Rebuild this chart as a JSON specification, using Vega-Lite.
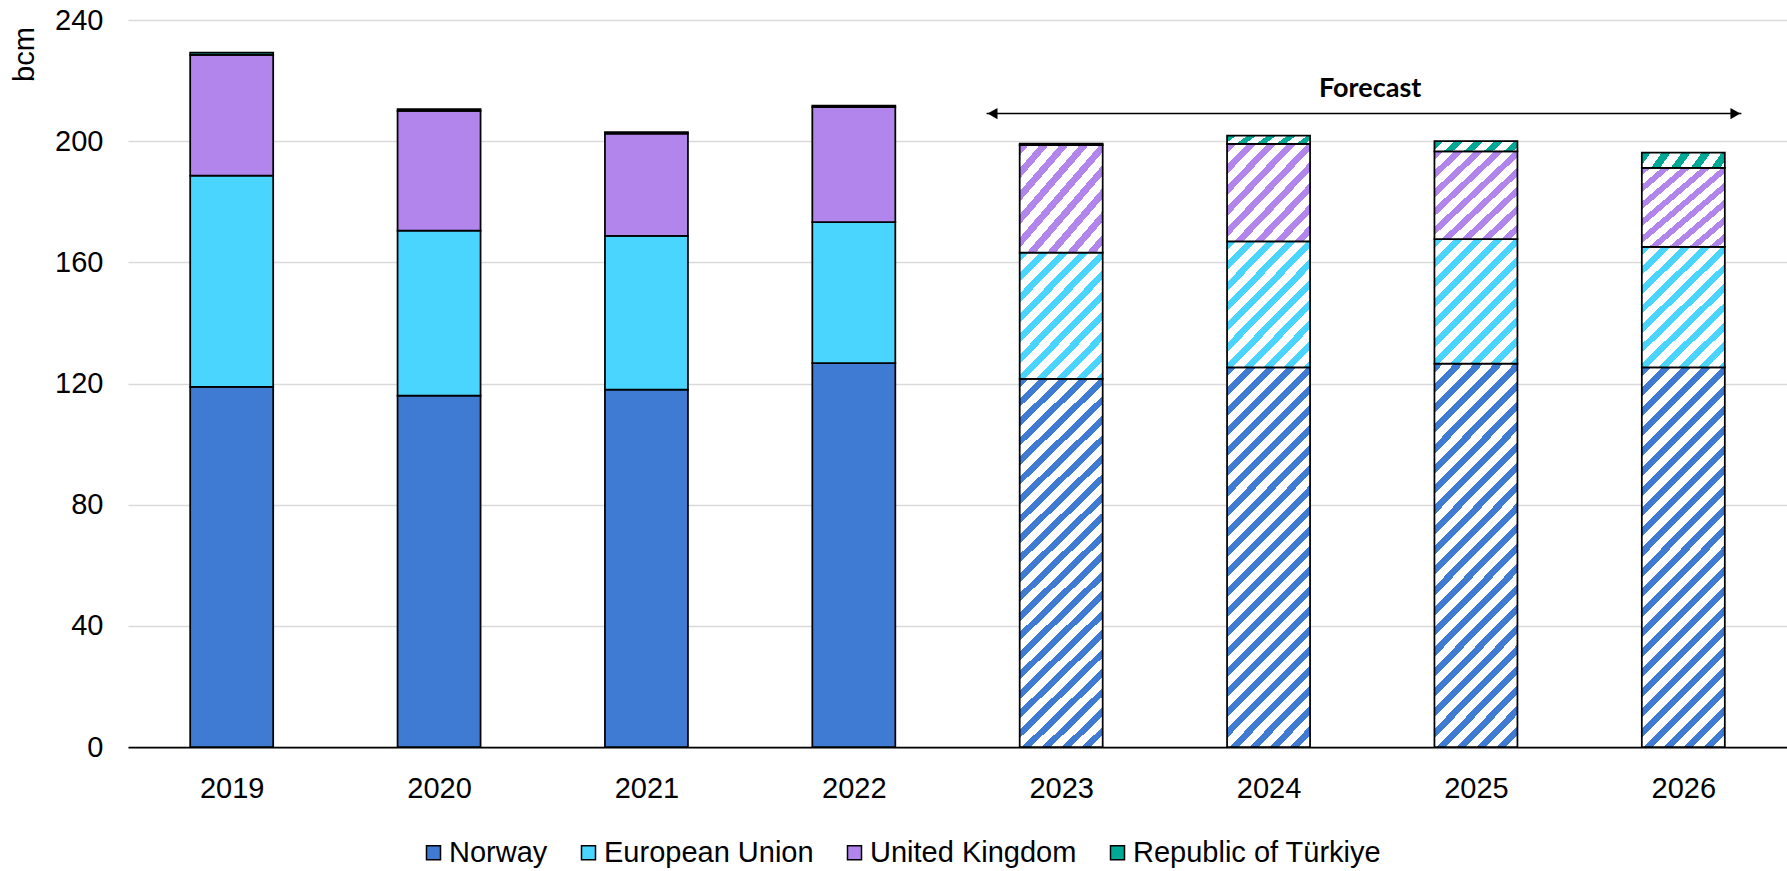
{
"$schema": "https://vega.github.io/schema/vega-lite/v6.json",
"width": 1659,
"height": 727,
"autosize": {"type": "none"},
"padding": {"left": 128, "top": 20, "right": 0, "bottom": 124},
"background": "white",
"config": {"view": {"stroke": null}, "font": "Liberation Sans"},
"data": {"values": [
{"year": 2019, "period": "Historical", "series": "Norway", "value": 118.9},
{"year": 2019, "period": "Historical", "series": "European Union", "value": 69.7},
{"year": 2019, "period": "Historical", "series": "United Kingdom", "value": 39.9},
{"year": 2019, "period": "Historical", "series": "Republic of Türkiye", "value": 0.7},
{"year": 2020, "period": "Historical", "series": "Norway", "value": 116.0},
{"year": 2020, "period": "Historical", "series": "European Union", "value": 54.5},
{"year": 2020, "period": "Historical", "series": "United Kingdom", "value": 39.5},
{"year": 2020, "period": "Historical", "series": "Republic of Türkiye", "value": 0.6},
{"year": 2021, "period": "Historical", "series": "Norway", "value": 118.0},
{"year": 2021, "period": "Historical", "series": "European Union", "value": 50.7},
{"year": 2021, "period": "Historical", "series": "United Kingdom", "value": 33.8},
{"year": 2021, "period": "Historical", "series": "Republic of Türkiye", "value": 0.5},
{"year": 2022, "period": "Historical", "series": "Norway", "value": 126.7},
{"year": 2022, "period": "Historical", "series": "European Union", "value": 46.6},
{"year": 2022, "period": "Historical", "series": "United Kingdom", "value": 37.9},
{"year": 2022, "period": "Historical", "series": "Republic of Türkiye", "value": 0.5},
{"year": 2023, "period": "Forecast", "series": "Norway", "value": 121.5},
{"year": 2023, "period": "Forecast", "series": "European Union", "value": 41.7},
{"year": 2023, "period": "Forecast", "series": "United Kingdom", "value": 35.5},
{"year": 2023, "period": "Forecast", "series": "Republic of Türkiye", "value": 0.5},
{"year": 2024, "period": "Forecast", "series": "Norway", "value": 125.3},
{"year": 2024, "period": "Forecast", "series": "European Union", "value": 41.6},
{"year": 2024, "period": "Forecast", "series": "United Kingdom", "value": 32.2},
{"year": 2024, "period": "Forecast", "series": "Republic of Türkiye", "value": 2.7},
{"year": 2025, "period": "Forecast", "series": "Norway", "value": 126.6},
{"year": 2025, "period": "Forecast", "series": "European Union", "value": 41.1},
{"year": 2025, "period": "Forecast", "series": "United Kingdom", "value": 28.9},
{"year": 2025, "period": "Forecast", "series": "Republic of Türkiye", "value": 3.4},
{"year": 2026, "period": "Forecast", "series": "Norway", "value": 125.3},
{"year": 2026, "period": "Forecast", "series": "European Union", "value": 39.8},
{"year": 2026, "period": "Forecast", "series": "United Kingdom", "value": 26.1},
{"year": 2026, "period": "Forecast", "series": "Republic of Türkiye", "value": 5.0}
]},
"layer": [
{
"transform": [{"stack": "value", "groupby": ["year"], "as": ["v0", "v1"]}, {"filter": {"field": "period", "equal": "Historical"}}],
"mark": {"type": "bar", "stroke": "black", "strokeWidth": 1.75, "width": 83},
"encoding": {
"x": {"field": "year", "type": "quantitative", "title": null, "scale": {"domain": [2018.5, 2026.5], "nice": false, "zero": false, "padding": 0},
"axis": {"values": [2019, 2020, 2021, 2022, 2023, 2024, 2025, 2026], "format": "d", "labelFlush": false, "labelOverlap": false, "labelAngle": 0, "labelFontSize": 29, "labelColor": "black", "labelPadding": 27, "ticks": false, "domain": true, "domainColor": "black", "domainWidth": 1.75, "grid": false}},
"y": {"field": "v1", "type": "quantitative", "title": "bcm", "scale": {"domain": [0, 240], "nice": false},
"axis": {"values": [0, 40, 80, 120, 160, 200, 240], "grid": true, "gridColor": "#d9d9d9", "gridWidth": 1.5, "domain": false, "ticks": false, "labelFontSize": 29, "labelColor": "black", "labelPadding": 25, "titleFontSize": 29, "titleFontWeight": "normal", "titleColor": "black", "titleAngle": 270, "titleX": -95, "titleY": 34, "titleAlign": "center", "titleBaseline": "alphabetic"}},
"y2": {"field": "v0"},
"color": {"field": "series", "type": "nominal",
"scale": {"domain": ["Norway", "European Union", "United Kingdom", "Republic of Türkiye"], "range": ["#3F7AD3", "#49D5FF", "#B185EC", "#00A896"]},
"legend": {"title": null, "orient": "none", "legendX": 291, "legendY": 818, "direction": "horizontal", "symbolType": "square", "symbolSize": 196, "symbolStrokeColor": "black", "symbolStrokeWidth": 1.5, "symbolOpacity": 1, "labelFontSize": 29, "labelColor": "black", "labelOffset": 1, "labelLimit": 600, "columnPadding": 26, "padding": 0}}
}
},
{
"transform": [{"stack": "value", "groupby": ["year"], "as": ["v0", "v1"]}, {"filter": {"and": [{"field": "period", "equal": "Forecast"}, {"field": "series", "equal": "Norway"}]}}],
"mark": {"type": "bar", "stroke": "black", "strokeWidth": 1.75, "width": 83, "fill": {"gradient": "linear", "x1": 0, "y1": 0, "x2": 0.266, "y2": 1.21143, "stops": [
{"offset":0,"color":"#3F7AD3"},{"offset":0.01875,"color":"#3F7AD3"},{"offset":0.01875,"color":"#ffffff"},{"offset":0.041667,"color":"#ffffff"},
{"offset":0.041667,"color":"#3F7AD3"},{"offset":0.060417,"color":"#3F7AD3"},{"offset":0.060417,"color":"#ffffff"},{"offset":0.083333,"color":"#ffffff"},
{"offset":0.083333,"color":"#3F7AD3"},{"offset":0.102083,"color":"#3F7AD3"},{"offset":0.102083,"color":"#ffffff"},{"offset":0.125,"color":"#ffffff"},
{"offset":0.125,"color":"#3F7AD3"},{"offset":0.14375,"color":"#3F7AD3"},{"offset":0.14375,"color":"#ffffff"},{"offset":0.166667,"color":"#ffffff"},
{"offset":0.166667,"color":"#3F7AD3"},{"offset":0.185417,"color":"#3F7AD3"},{"offset":0.185417,"color":"#ffffff"},{"offset":0.208333,"color":"#ffffff"},
{"offset":0.208333,"color":"#3F7AD3"},{"offset":0.227083,"color":"#3F7AD3"},{"offset":0.227083,"color":"#ffffff"},{"offset":0.25,"color":"#ffffff"},
{"offset":0.25,"color":"#3F7AD3"},{"offset":0.26875,"color":"#3F7AD3"},{"offset":0.26875,"color":"#ffffff"},{"offset":0.291667,"color":"#ffffff"},
{"offset":0.291667,"color":"#3F7AD3"},{"offset":0.310417,"color":"#3F7AD3"},{"offset":0.310417,"color":"#ffffff"},{"offset":0.333333,"color":"#ffffff"},
{"offset":0.333333,"color":"#3F7AD3"},{"offset":0.352083,"color":"#3F7AD3"},{"offset":0.352083,"color":"#ffffff"},{"offset":0.375,"color":"#ffffff"},
{"offset":0.375,"color":"#3F7AD3"},{"offset":0.39375,"color":"#3F7AD3"},{"offset":0.39375,"color":"#ffffff"},{"offset":0.416667,"color":"#ffffff"},
{"offset":0.416667,"color":"#3F7AD3"},{"offset":0.435417,"color":"#3F7AD3"},{"offset":0.435417,"color":"#ffffff"},{"offset":0.458333,"color":"#ffffff"},
{"offset":0.458333,"color":"#3F7AD3"},{"offset":0.477083,"color":"#3F7AD3"},{"offset":0.477083,"color":"#ffffff"},{"offset":0.5,"color":"#ffffff"},
{"offset":0.5,"color":"#3F7AD3"},{"offset":0.51875,"color":"#3F7AD3"},{"offset":0.51875,"color":"#ffffff"},{"offset":0.541667,"color":"#ffffff"},
{"offset":0.541667,"color":"#3F7AD3"},{"offset":0.560417,"color":"#3F7AD3"},{"offset":0.560417,"color":"#ffffff"},{"offset":0.583333,"color":"#ffffff"},
{"offset":0.583333,"color":"#3F7AD3"},{"offset":0.602083,"color":"#3F7AD3"},{"offset":0.602083,"color":"#ffffff"},{"offset":0.625,"color":"#ffffff"},
{"offset":0.625,"color":"#3F7AD3"},{"offset":0.64375,"color":"#3F7AD3"},{"offset":0.64375,"color":"#ffffff"},{"offset":0.666667,"color":"#ffffff"},
{"offset":0.666667,"color":"#3F7AD3"},{"offset":0.685417,"color":"#3F7AD3"},{"offset":0.685417,"color":"#ffffff"},{"offset":0.708333,"color":"#ffffff"},
{"offset":0.708333,"color":"#3F7AD3"},{"offset":0.727083,"color":"#3F7AD3"},{"offset":0.727083,"color":"#ffffff"},{"offset":0.75,"color":"#ffffff"},
{"offset":0.75,"color":"#3F7AD3"},{"offset":0.76875,"color":"#3F7AD3"},{"offset":0.76875,"color":"#ffffff"},{"offset":0.791667,"color":"#ffffff"},
{"offset":0.791667,"color":"#3F7AD3"},{"offset":0.810417,"color":"#3F7AD3"},{"offset":0.810417,"color":"#ffffff"},{"offset":0.833333,"color":"#ffffff"},
{"offset":0.833333,"color":"#3F7AD3"},{"offset":0.852083,"color":"#3F7AD3"},{"offset":0.852083,"color":"#ffffff"},{"offset":0.875,"color":"#ffffff"},
{"offset":0.875,"color":"#3F7AD3"},{"offset":0.89375,"color":"#3F7AD3"},{"offset":0.89375,"color":"#ffffff"},{"offset":0.916667,"color":"#ffffff"},
{"offset":0.916667,"color":"#3F7AD3"},{"offset":0.935417,"color":"#3F7AD3"},{"offset":0.935417,"color":"#ffffff"},{"offset":0.958333,"color":"#ffffff"},
{"offset":0.958333,"color":"#3F7AD3"},{"offset":0.977083,"color":"#3F7AD3"},{"offset":0.977083,"color":"#ffffff"},{"offset":1,"color":"#ffffff"}
]}},
"encoding": {"x": {"field": "year", "type": "quantitative", "title": null}, "y": {"field": "v1", "type": "quantitative", "title": "bcm"}, "y2": {"field": "v0"}}
},
{
"transform": [{"stack": "value", "groupby": ["year"], "as": ["v0", "v1"]}, {"filter": {"and": [{"field": "period", "equal": "Forecast"}, {"field": "series", "equal": "European Union"}]}}],
"mark": {"type": "bar", "stroke": "black", "strokeWidth": 1.75, "width": 83, "fill": {"gradient": "linear", "x1": 0, "y1": 0, "x2": 1.78939, "y2": 2.67325, "stops": [
{"offset":0,"color":"#49D5FF"},{"offset":0.01875,"color":"#49D5FF"},{"offset":0.01875,"color":"#ffffff"},{"offset":0.041667,"color":"#ffffff"},
{"offset":0.041667,"color":"#49D5FF"},{"offset":0.060417,"color":"#49D5FF"},{"offset":0.060417,"color":"#ffffff"},{"offset":0.083333,"color":"#ffffff"},
{"offset":0.083333,"color":"#49D5FF"},{"offset":0.102083,"color":"#49D5FF"},{"offset":0.102083,"color":"#ffffff"},{"offset":0.125,"color":"#ffffff"},
{"offset":0.125,"color":"#49D5FF"},{"offset":0.14375,"color":"#49D5FF"},{"offset":0.14375,"color":"#ffffff"},{"offset":0.166667,"color":"#ffffff"},
{"offset":0.166667,"color":"#49D5FF"},{"offset":0.185417,"color":"#49D5FF"},{"offset":0.185417,"color":"#ffffff"},{"offset":0.208333,"color":"#ffffff"},
{"offset":0.208333,"color":"#49D5FF"},{"offset":0.227083,"color":"#49D5FF"},{"offset":0.227083,"color":"#ffffff"},{"offset":0.25,"color":"#ffffff"},
{"offset":0.25,"color":"#49D5FF"},{"offset":0.26875,"color":"#49D5FF"},{"offset":0.26875,"color":"#ffffff"},{"offset":0.291667,"color":"#ffffff"},
{"offset":0.291667,"color":"#49D5FF"},{"offset":0.310417,"color":"#49D5FF"},{"offset":0.310417,"color":"#ffffff"},{"offset":0.333333,"color":"#ffffff"},
{"offset":0.333333,"color":"#49D5FF"},{"offset":0.352083,"color":"#49D5FF"},{"offset":0.352083,"color":"#ffffff"},{"offset":0.375,"color":"#ffffff"},
{"offset":0.375,"color":"#49D5FF"},{"offset":0.39375,"color":"#49D5FF"},{"offset":0.39375,"color":"#ffffff"},{"offset":0.416667,"color":"#ffffff"},
{"offset":0.416667,"color":"#49D5FF"},{"offset":0.435417,"color":"#49D5FF"},{"offset":0.435417,"color":"#ffffff"},{"offset":0.458333,"color":"#ffffff"},
{"offset":0.458333,"color":"#49D5FF"},{"offset":0.477083,"color":"#49D5FF"},{"offset":0.477083,"color":"#ffffff"},{"offset":0.5,"color":"#ffffff"}
]}},
"encoding": {"x": {"field": "year", "type": "quantitative", "title": null}, "y": {"field": "v1", "type": "quantitative", "title": "bcm"}, "y2": {"field": "v0"}}
},
{
"transform": [{"stack": "value", "groupby": ["year"], "as": ["v0", "v1"]}, {"filter": {"and": [{"field": "period", "equal": "Forecast"}, {"field": "series", "equal": "United Kingdom"}]}}],
"mark": {"type": "bar", "stroke": "black", "strokeWidth": 1.75, "width": 83, "fill": {"gradient": "linear", "x1": 0, "y1": 0, "x2": 2.56404, "y2": 2.87296, "stops": [
{"offset":0,"color":"#B185EC"},{"offset":0.01875,"color":"#B185EC"},{"offset":0.01875,"color":"#ffffff"},{"offset":0.041667,"color":"#ffffff"},
{"offset":0.041667,"color":"#B185EC"},{"offset":0.060417,"color":"#B185EC"},{"offset":0.060417,"color":"#ffffff"},{"offset":0.083333,"color":"#ffffff"},
{"offset":0.083333,"color":"#B185EC"},{"offset":0.102083,"color":"#B185EC"},{"offset":0.102083,"color":"#ffffff"},{"offset":0.125,"color":"#ffffff"},
{"offset":0.125,"color":"#B185EC"},{"offset":0.14375,"color":"#B185EC"},{"offset":0.14375,"color":"#ffffff"},{"offset":0.166667,"color":"#ffffff"},
{"offset":0.166667,"color":"#B185EC"},{"offset":0.185417,"color":"#B185EC"},{"offset":0.185417,"color":"#ffffff"},{"offset":0.208333,"color":"#ffffff"},
{"offset":0.208333,"color":"#B185EC"},{"offset":0.227083,"color":"#B185EC"},{"offset":0.227083,"color":"#ffffff"},{"offset":0.25,"color":"#ffffff"},
{"offset":0.25,"color":"#B185EC"},{"offset":0.26875,"color":"#B185EC"},{"offset":0.26875,"color":"#ffffff"},{"offset":0.291667,"color":"#ffffff"},
{"offset":0.291667,"color":"#B185EC"},{"offset":0.310417,"color":"#B185EC"},{"offset":0.310417,"color":"#ffffff"},{"offset":0.333333,"color":"#ffffff"},
{"offset":0.333333,"color":"#B185EC"},{"offset":0.352083,"color":"#B185EC"},{"offset":0.352083,"color":"#ffffff"},{"offset":0.375,"color":"#ffffff"},
{"offset":0.375,"color":"#B185EC"},{"offset":0.39375,"color":"#B185EC"},{"offset":0.39375,"color":"#ffffff"},{"offset":0.416667,"color":"#ffffff"}
]}},
"encoding": {"x": {"field": "year", "type": "quantitative", "title": null}, "y": {"field": "v1", "type": "quantitative", "title": "bcm"}, "y2": {"field": "v0"}}
},
{
"transform": [{"stack": "value", "groupby": ["year"], "as": ["v0", "v1"]}, {"filter": {"and": [{"field": "period", "equal": "Forecast"}, {"field": "series", "equal": "Republic of Türkiye"}]}}],
"mark": {"type": "bar", "stroke": "black", "strokeWidth": 1.75, "width": 83, "fill": {"gradient": "linear", "x1": 0, "y1": 0, "x2": 5.68331, "y2": 0.75321, "stops": [
{"offset":0,"color":"#00A896"},{"offset":0.01875,"color":"#00A896"},{"offset":0.01875,"color":"#ffffff"},{"offset":0.041667,"color":"#ffffff"},
{"offset":0.041667,"color":"#00A896"},{"offset":0.060417,"color":"#00A896"},{"offset":0.060417,"color":"#ffffff"},{"offset":0.083333,"color":"#ffffff"},
{"offset":0.083333,"color":"#00A896"},{"offset":0.102083,"color":"#00A896"},{"offset":0.102083,"color":"#ffffff"},{"offset":0.125,"color":"#ffffff"},
{"offset":0.125,"color":"#00A896"},{"offset":0.14375,"color":"#00A896"},{"offset":0.14375,"color":"#ffffff"},{"offset":0.166667,"color":"#ffffff"},
{"offset":0.166667,"color":"#00A896"},{"offset":0.185417,"color":"#00A896"},{"offset":0.185417,"color":"#ffffff"},{"offset":0.208333,"color":"#ffffff"},
{"offset":0.208333,"color":"#00A896"},{"offset":0.227083,"color":"#00A896"},{"offset":0.227083,"color":"#ffffff"},{"offset":0.25,"color":"#ffffff"}
]}},
"encoding": {"x": {"field": "year", "type": "quantitative", "title": null}, "y": {"field": "v1", "type": "quantitative", "title": "bcm"}, "y2": {"field": "v0"}}
},
{
"data": {"values": [{"label": "Forecast", "start": 2022.64, "end": 2026.28, "mid": 2024.49, "arrowAt": 209.1, "labelAt": 217.3}]},
"mark": {"type": "rule", "stroke": "black", "strokeWidth": 1.5},
"encoding": {
"x": {"field": "start", "type": "quantitative", "title": null},
"x2": {"field": "end"},
"y": {"field": "arrowAt", "type": "quantitative", "title": "bcm"}
}
},
{
"data": {"values": [{"label": "Forecast", "start": 2022.64, "end": 2026.28, "mid": 2024.49, "arrowAt": 209.1, "labelAt": 217.3}]},
"mark": {"type": "point", "shape": "triangle-left", "filled": true, "color": "black", "opacity": 1, "size": 130, "xOffset": 6},
"encoding": {"x": {"field": "start", "type": "quantitative", "title": null}, "y": {"field": "arrowAt", "type": "quantitative", "title": "bcm"}}
},
{
"data": {"values": [{"label": "Forecast", "start": 2022.64, "end": 2026.28, "mid": 2024.49, "arrowAt": 209.1, "labelAt": 217.3}]},
"mark": {"type": "point", "shape": "triangle-right", "filled": true, "color": "black", "opacity": 1, "size": 130, "xOffset": -6},
"encoding": {"x": {"field": "end", "type": "quantitative", "title": null}, "y": {"field": "arrowAt", "type": "quantitative", "title": "bcm"}}
},
{
"data": {"values": [{"label": "Forecast", "start": 2022.64, "end": 2026.28, "mid": 2024.49, "arrowAt": 209.1, "labelAt": 217.3}]},
"mark": {"type": "text", "font": "Lato", "fontWeight": "bold", "fontSize": 27, "color": "black", "align": "center", "baseline": "middle"},
"encoding": {"x": {"field": "mid", "type": "quantitative", "title": null}, "y": {"field": "labelAt", "type": "quantitative", "title": "bcm"}, "text": {"field": "label"}}
}
]
}
